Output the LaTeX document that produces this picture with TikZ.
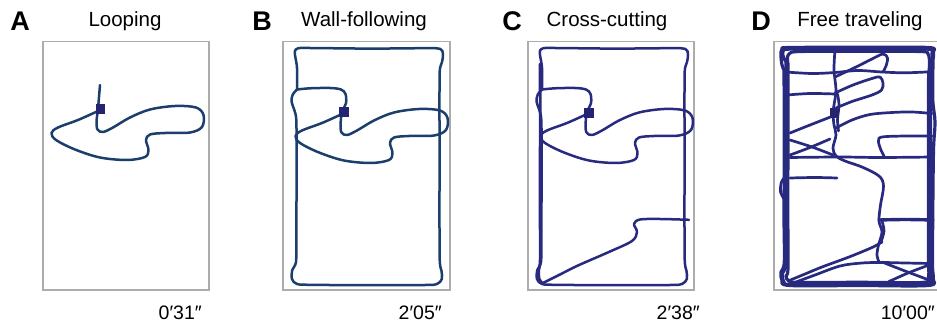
\documentclass[tikz,border=0pt]{standalone}
\usepackage{fontspec}
\setmainfont{Liberation Sans}

\definecolor{arenagray}{RGB}{172,172,172}
\definecolor{trackblue}{RGB}{27,62,108}
\definecolor{trackindigo}{RGB}{40,42,128}
\definecolor{markerblue}{RGB}{36,36,115}

\tikzset{
  arenabox/.style={draw=arenagray, line width=1.7pt},
  pathAB/.style={draw=trackblue, line width=2.5pt, line cap=round, line join=round},
  pathCD/.style={draw=trackindigo, line width=2.5pt, line cap=round, line join=round},
  pathD/.style={draw=trackindigo, line width=2.7pt, line cap=round, line join=round},
  wallD/.style={draw=trackindigo, line width=3.2pt, line cap=round, line join=round},
  startmark/.style={fill=markerblue, draw=none, minimum size=9.5pt, inner sep=0pt},
  panelletter/.style={font=\fontsize{27}{27}\selectfont\bfseries, anchor=base, inner sep=0pt},
  paneltitle/.style={font=\fontsize{20.5}{20.5}\selectfont, anchor=base, inner sep=0pt},
  elapsed/.style={font=\fontsize{19.5}{19.5}\selectfont, anchor=base east, inner sep=0pt},
  sm/.style={smooth, tension=0.55},
}

% wall-following run: closed loop along the walls plus the first excursion
\newcommand\wallrun[1]{%
  \draw[#1] plot[sm] coordinates {(297,89.5) (292.8,94.5) (291.5,101.5) (294.3,110)
    (296.3,120) (296.5,150) (296.5,200) (296.3,240) (296,262) (292.3,270) (292,279)
    (297,284) (310,284.8) (370,285.2) (425,285) (437,284) (441.8,279) (441.5,271)
    (439.8,262) (439.5,230) (439.5,180) (439.5,130) (439.5,90) (439.8,70) (442,62)
    (443,54) (440,48.8) (425,48.2) (370,48.6) (310,48) (298,48.3) (294.8,51.5)
    (295.5,58) (297,68) (297,89.5)};
  \draw[#1, shift={(244,3)}] plot[sm] coordinates {(53,86.5) (66,85.3) (86,85)
    (97,86.5) (101.5,91) (102,100) (98,109) (96.6,121) (97.5,129.5) (103,132)
    (113,127.5) (130,117.5) (150,109.5) (175,106) (196,107.5) (203.5,115) (202,127)
    (190,132.5) (165,133) (150,134.5) (146,140) (148.5,150) (145,157) (127,160)
    (100,157.5) (75,149.5) (56,140) (51.5,133) (58,127.5) (78,120) (97,111.5)};
}

\begin{document}
\begin{tikzpicture}[x=1pt, y=-1pt]
\useasboundingbox (0,0) rectangle (937,326);
\clip (0,0) rectangle (937,326);

% ---------------- A: looping ----------------
\draw[arenabox] (43,41.5) rectangle (209,290);
\draw[pathAB] plot[sm] coordinates {(100,85) (99,97) (98,109) (96.6,121) (97.5,129.5)
  (103,132) (113,127.5) (130,117.5) (150,109.5) (175,106) (196,107.5) (203.5,115)
  (202,127) (190,132.5) (165,133) (150,134.5) (146,140) (148.5,150) (145,157)
  (127,160) (100,157.5) (75,149.5) (56,140) (51.5,133) (58,127.5) (78,120) (97,111.5)};
\node[startmark] (startA) at (100.3,108.8) {};
\node[panelletter] (letA) at (20,31) {A};
\node[paneltitle] (titA) at (125,27) {Looping};
\node[elapsed] (timeA) at (202,319) {0′31″};

% ---------------- B: wall-following ----------------
\draw[arenabox] (283,41.5) rectangle (450,290);
\wallrun{pathAB}
\node[startmark] (startB) at (344,112) {};
\node[panelletter] (letB) at (262,31) {B};
\node[paneltitle] (titB) at (364,27) {Wall-following};
\node[elapsed] (timeB) at (442,319) {2′05″};

% ---------------- C: cross-cutting ----------------
\draw[arenabox] (528,41.5) rectangle (694,290);
\begin{scope}[shift={(245,0)}]
  \wallrun{pathCD}
\end{scope}
\draw[pathCD, line width=2.8pt] plot[sm] coordinates {(540,64) (540.2,120) (540,200)
  (540.2,258) (538.8,270) (539.2,279) (543,284)};
\draw[pathCD] plot[sm] coordinates {(542,283.5) (560,274.5) (578,265.5) (610,251.5)
  (632,241) (637,232) (634,224) (640,219.5) (660,219) (689,219.8)};
\node[startmark] (startC) at (589,112.8) {};
\node[panelletter] (letC) at (512,31) {C};
\node[paneltitle] (titC) at (607,27) {Cross-cutting};
\node[elapsed] (timeC) at (700,319) {2′38″};

% ---------------- D: free traveling ----------------
\draw[arenabox] (774,41.5) rectangle (940,290);
% repeated laps along the walls
\draw[wallD] plot[sm] coordinates {(786,62) (786,120) (786,200) (786,262) (782.5,273)
  (784,282) (792,284.5) (860,284.8) (925,284.3) (931,280) (931,268) (930.5,220) (930.5,150)
  (930.5,80) (931.5,62) (932,53) (926,49) (860,49) (792,49) (783,51.5) (783.5,57) (786,62)};
\draw[wallD] plot[sm] coordinates {(788,64) (788,130) (787.8,210) (788,268) (786,276)
  (789,281) (800,282.5) (860,282.3) (922,282.5) (928.5,277) (928.5,262) (928.5,200)
  (928.5,140) (928.5,82) (929.5,64) (928,54) (920,51.5) (860,51.3) (800,51.5) (789.5,53.5)
  (787.5,58) (788,64)};
\draw[wallD] plot[sm] coordinates {(784,70) (784.3,140) (784,215) (784.3,262) (781,272)
  (782,280.5) (790,285.5) (860,285.5) (928,285.5) (933.3,279) (932.5,265) (932.8,210)
  (933.5,150) (935,122) (932.8,100) (933,62) (933.5,52) (928,47.5) (860,47.3) (790,47.5)
  (782,49) (781,56) (782,65) (784,70)};
% crossings through the open field
\draw[pathD] plot[sm] coordinates {(786,72) (812,73.5) (835,72.5) (858,70.5) (882,72)
  (905,72.8) (930,71.8)};
\draw[pathD] plot[sm] coordinates {(835,77) (855,67.5) (872,59) (883,54) (887.5,58)
  (886,66) (883,72)};
\draw[pathD] plot[sm] coordinates {(835,93) (853,85) (872,78.5) (880,77) (883,83)
  (881.5,90) (872,95) (852,101.5) (836,108)};
\draw[pathD] plot[sm] coordinates {(787,95) (810,93.5) (835,94)};
\draw[pathD] plot[sm] coordinates {(835,50) (834,70) (836,90) (834,105) (833,113)
  (834,125) (836,135) (833,148) (836,156) (845,161) (862,167) (879,176) (883.5,186)
  (880.5,205) (879,221) (882,232) (878.5,245) (877,255) (879,262)};
\draw[pathD] plot[sm] coordinates {(837.5,94) (839,105) (837.5,120) (838.5,131)};
\draw[pathD] plot[sm] coordinates {(882,221) (884,231) (881,242)};
\draw[pathD] plot[sm] coordinates {(790,133) (810,125) (833,116)};
\draw[pathD] plot[sm] coordinates {(836,128) (852,120) (870,114.5) (892,112.5)
  (912,112) (932,113.5)};
\draw[pathD] plot[sm] coordinates {(884,156) (880.5,149) (878.5,141) (882,137) (906,136)
  (932,136)};
\draw[pathD] plot[sm] coordinates {(790,157.5) (840,157) (880,157.5) (932,157)};
\draw[pathD] plot[sm] coordinates {(790,140) (812,147) (833,155)};
\draw[pathD] plot[sm] coordinates {(790,155) (810,147.5) (830,139)};
\draw[pathD] plot[sm] coordinates {(790,178) (815,177.5) (837,178)};
\draw[pathD] plot[sm] coordinates {(786,176) (781.5,182) (780.5,192) (784,199) (786,205)};
\draw[pathD, line width=3.4pt] plot[sm] coordinates {(879,220) (905,219.5) (933,220)};
\draw[pathD] plot[sm] coordinates {(788,281) (805,274) (822,267) (849,257) (872,247.5)
  (882,242)};
\draw[pathD] plot[sm] coordinates {(792,283.5) (815,275) (840,266) (862,263) (882,262.5)
  (905,263) (930,263.5)};
\draw[pathD] plot[sm] coordinates {(882,262) (905,271) (929,280)};
\draw[pathD] plot[sm] coordinates {(888,282) (908,273) (929,265)};
\node[startmark] (startD) at (834.5,113) {};
\node[panelletter] (letD) at (761,31) {D};
\node[paneltitle] (titD) at (860,27) {Free traveling};
\node[elapsed] (timeD) at (935,319) {10′00″};
\end{tikzpicture}
\end{document}
